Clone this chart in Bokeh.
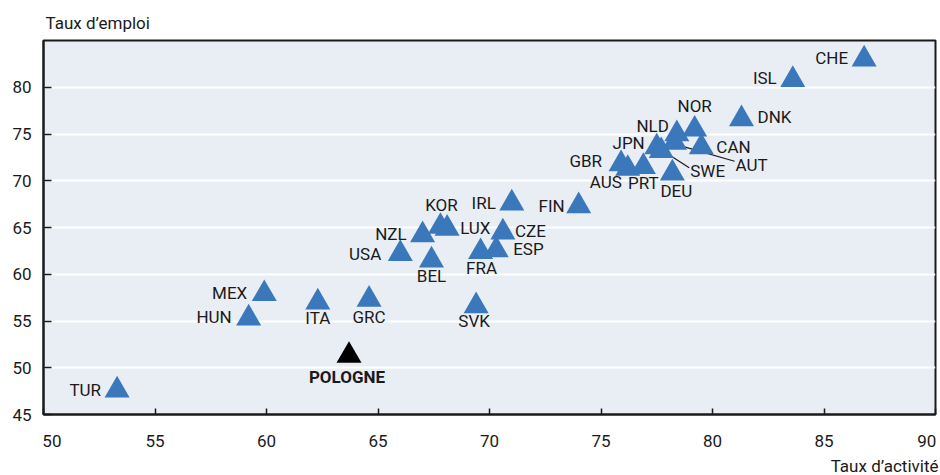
from bokeh.plotting import figure
from bokeh.models import FixedTicker, ColumnDataSource, Title
from bokeh.core.properties import value
from bokeh.embed import file_html
from bokeh.resources import INLINE

# ---------------- data ----------------
countries = ["CHE", "ISL", "DNK", "NOR", "NLD", "AUT", "CAN", "JPN", "SWE", "GBR",
             "AUS", "PRT", "DEU", "IRL", "FIN", "KOR", "LUX", "NZL", "USA", "BEL",
             "CZE", "ESP", "FRA", "GRC", "SVK", "MEX", "HUN", "ITA", "POLOGNE", "TUR"]
activity_rate = [86.8, 83.6, 81.3, 79.2, 78.4, 78.3, 79.5, 77.5, 77.7, 75.9,
                 76.2, 76.9, 78.2, 71.0, 74.0, 67.8, 68.1, 67.0, 66.0, 67.4,
                 70.6, 70.3, 69.6, 64.6, 69.4, 59.9, 59.2, 62.3, 63.7, 53.3]
employment_rate = [83.0, 80.8, 76.6, 75.5, 75.0, 74.1, 73.6, 73.6, 73.2, 71.8,
                   71.3, 71.5, 70.8, 67.6, 67.3, 65.1, 64.9, 64.2, 62.2, 61.5,
                   64.5, 62.6, 62.4, 57.3, 56.6, 57.9, 55.3, 57.0, 51.3, 47.6]
highlight = "POLOGNE"

x_ticks = [50, 55, 60, 65, 70, 75, 80, 85, 90]
y_ticks = [45, 50, 55, 60, 65, 70, 75, 80]
x_title = "Taux d\u2019activit\u00e9"
y_title = "Taux d\u2019emploi"

# ---------------- label placement (styling, screen px) ----------------
# (dx, dy, align) : dx right positive, dy down positive
placement = {
    "CHE": (-16, -1, "right"), "ISL": (-16, -2, "right"), "DNK": (16, -2, "left"),
    "NOR": (0, -23, "center"), "NLD": (-8, -8, "right"), "AUT": (61, 23, "left"),
    "CAN": (15, 0, "left"), "JPN": (-12, -4, "right"), "SWE": (29, 20, "left"),
    "GBR": (-19, -3, "right"), "AUS": (-6, 13, "right"), "PRT": (0, 16, "center"),
    "DEU": (4, 18, "center"), "IRL": (-16, 0, "right"), "FIN": (-14, 0, "right"),
    "KOR": (1, -22, "center"), "LUX": (13, 0, "left"), "NZL": (-16, -1, "right"),
    "USA": (-19, 0, "right"), "BEL": (0, 16, "center"), "CZE": (12, -1, "left"),
    "ESP": (17, -1, "left"), "FRA": (1, 16, "center"), "GRC": (0, 18, "center"),
    "SVK": (-2, 15, "center"), "MEX": (-17, -1, "right"), "HUN": (-17, -1, "right"),
    "ITA": (0, 16, "center"), "POLOGNE": (-2, 21, "center"), "TUR": (-16, 0, "right"),
}
# leader lines (screen px offsets from point: start, end)
leaders = {"AUT": ((1, 2), (60, 19)), "SWE": ((0, -1), (28, 17))}

FONT = "Roboto"
FS = "17px"
BLUE = "#3b77bb"
INK = "#1a1a1a"

W, H = 940, 475
ML, MR, MT, MB = 43, 5, 40, 57
XR, YR = (50, 90), (45, 85)
px_x = (XR[1] - XR[0]) / (W - ML - MR)
px_y = (YR[1] - YR[0]) / (H - MT - MB)

p = figure(width=W, height=H, x_range=XR, y_range=YR, output_backend="svg",
           toolbar_location=None, min_border_left=ML, min_border_right=MR,
           min_border_top=MT, min_border_bottom=MB)
p.background_fill_color = "#e9eef5"
p.border_fill_color = "white"
p.outline_line_color = INK
p.outline_line_width = 2

p.title.text = y_title
p.title.align = "left"
p.title.offset = 2
p.title.standoff = 15
p.title.text_font = FONT
p.title.text_font_size = FS
p.title.text_font_style = "normal"
p.title.text_color = INK

p.add_layout(Title(text=x_title, align="right", standoff=0, offset=-3, text_font=FONT,
                   text_font_size=FS, text_font_style="normal", text_color=INK),
             "below")

p.xgrid.grid_line_color = None
p.ygrid.ticker = FixedTicker(ticks=y_ticks)
p.ygrid.grid_line_color = "white"
p.ygrid.grid_line_width = 2

for ax in (p.xaxis[0], p.yaxis[0]):
    ax.axis_line_color = INK
    ax.axis_line_width = 2
    ax.major_tick_line_color = INK
    ax.major_tick_line_width = 1.5
    ax.major_tick_out = 0
    ax.minor_tick_line_color = None
    ax.major_label_text_font = FONT
    ax.major_label_text_font_size = FS
    ax.major_label_text_color = INK

p.xaxis.ticker = FixedTicker(ticks=x_ticks)
p.xaxis.major_tick_in = 6
p.xaxis.major_label_standoff = 16
# end labels nudged inside the frame, as in the reference
NB = "\u00a0"
p.xaxis.major_label_overrides = {x_ticks[0]: NB * 4 + str(x_ticks[0]),
                                 x_ticks[-1]: str(x_ticks[-1]) + NB}
p.yaxis.ticker = FixedTicker(ticks=y_ticks)
p.yaxis.major_tick_in = 8
p.yaxis.major_label_standoff = 12

# leader lines
lx0, ly0, lx1, ly1 = [], [], [], []
for c, ((sx, sy), (ex, ey)) in leaders.items():
    i = countries.index(c)
    lx0.append(activity_rate[i] + sx * px_x)
    ly0.append(employment_rate[i] - sy * px_y)
    lx1.append(activity_rate[i] + ex * px_x)
    ly1.append(employment_rate[i] - ey * px_y)
p.segment(x0=lx0, y0=ly0, x1=lx1, y1=ly1, line_color=INK, line_width=1.2)

colors = ["#000000" if c == highlight else BLUE for c in countries]
styles = ["bold" if c == highlight else "normal" for c in countries]
src = ColumnDataSource(dict(
    x=activity_rate, y=employment_rate, text=countries, color=colors, style=styles,
    dx=[placement[c][0] for c in countries],
    dy=[placement[c][1] for c in countries],
    align=[placement[c][2] for c in countries],
))
p.scatter("x", "y", source=src, marker="triangle", size=25, fill_color="color",
          line_color=None)
p.text("x", "y", text="text", source=src, x_offset="dx", y_offset="dy",
       text_align="align", text_baseline="middle", text_font=value(FONT),
       text_font_size=FS, text_font_style="style", text_color=INK)

open("out.html", "w").write(file_html(p, INLINE))
